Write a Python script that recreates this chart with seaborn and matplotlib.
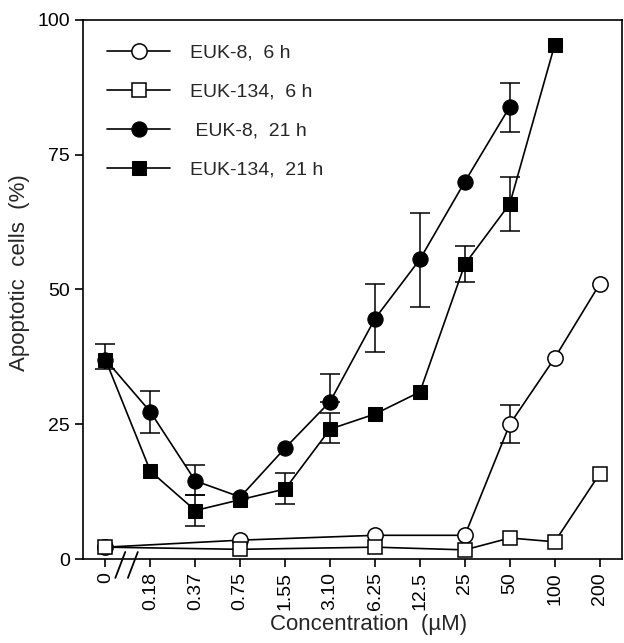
import numpy as np
import matplotlib
matplotlib.use('Agg')
import matplotlib.pyplot as plt
import matplotlib.transforms as mtransforms
import seaborn as sns

conc_labels = ['0', '0.18', '0.37', '0.75', '1.55', '3.10', '6.25', '12.5', '25', '50', '100', '200']

# index positions of the concentrations
euk8_6h_x = [0, 3, 6, 8, 9, 10, 11]
euk8_6h_y = [2.2, 3.5, 4.4, 4.4, 25.0, 37.3, 51.0]

euk134_6h_x = [0, 3, 6, 8, 9, 10, 11]
euk134_6h_y = [2.2, 1.8, 2.2, 1.7, 3.9, 3.2, 15.8]

euk8_21h_x = [0, 1, 2, 3, 4, 5, 6, 7, 8, 9]
euk8_21h_y = [37.0, 27.3, 14.5, 11.5, 20.6, 29.2, 44.6, 55.6, 70.0, 83.9]

euk134_21h_x = [0, 1, 2, 3, 4, 5, 6, 7, 8, 9, 10]
euk134_21h_y = [37.0, 16.3, 9.0, 11.0, 13.0, 24.1, 26.9, 31.0, 54.7, 65.9, 95.4]

# error bars: (x index, y, lower err, upper err)
err_euk8_6h = [(9, 25.0, 3.5, 3.5)]
err_euk8_21h = [(1, 27.3, 3.9, 3.9), (2, 14.5, 2.6, 2.9), (5, 29.2, 0, 5.1),
                (6, 44.6, 6.2, 6.4), (7, 55.6, 8.8, 8.6), (9, 83.9, 4.7, 4.4)]
err_euk134_21h = [(0, 37.0, 1.8, 2.9), (2, 9.0, 2.9, 2.9), (4, 13.0, 2.8, 3.0),
                  (5, 24.1, 2.6, 2.9), (8, 54.7, 3.4, 3.3), (9, 65.9, 5.0, 4.9)]

sns.set_style('ticks')
plt.rcParams['font.family'] = ['Liberation Sans', 'DejaVu Sans']
plt.rcParams['font.size'] = 14

fig = plt.figure(figsize=(6.24, 6.43), dpi=100)
ax = fig.add_axes([0.133, 0.1306, 0.864, 0.8384])

lw = 1.2
for errs in [err_euk8_6h, err_euk8_21h, err_euk134_21h]:
    ex = [e[0] for e in errs]
    ey = [e[1] for e in errs]
    elo = [e[2] for e in errs]
    ehi = [e[3] for e in errs]
    ax.errorbar(ex, ey, yerr=[elo, ehi], fmt='none', ecolor='black',
                elinewidth=1.1, capsize=7, capthick=1.1, zorder=2)

sns.lineplot(x=euk8_6h_x, y=euk8_6h_y, ax=ax, color='black', lw=lw, marker='o',
             markersize=11, markerfacecolor='white', markeredgecolor='black',
             markeredgewidth=1.1, label='EUK-8,  6 h', zorder=3)
sns.lineplot(x=euk134_6h_x, y=euk134_6h_y, ax=ax, color='black', lw=lw, marker='s',
             markersize=10, markerfacecolor='white', markeredgecolor='black',
             markeredgewidth=1.1, label='EUK-134,  6 h', zorder=3)
sns.lineplot(x=euk8_21h_x, y=euk8_21h_y, ax=ax, color='black', lw=lw, marker='o',
             markersize=11, markerfacecolor='black', markeredgecolor='black',
             label=' EUK-8,  21 h', zorder=4)
sns.lineplot(x=euk134_21h_x, y=euk134_21h_y, ax=ax, color='black', lw=lw, marker='s',
             markersize=10, markerfacecolor='black', markeredgecolor='black',
             label='EUK-134,  21 h', zorder=4)

ax.set_xlim(-0.5, 11.5)
ax.set_ylim(0, 100)
ax.set_xticks(range(len(conc_labels)))
ax.set_xticklabels(conc_labels, rotation=90)
ax.set_yticks([0, 25, 50, 75, 100])
ax.tick_params(direction='out', length=6, width=1.2, colors='black', labelsize=14)
for s in ax.spines.values():
    s.set_linewidth(1.2)
    s.set_color('black')

ax.set_xlabel('Concentration  (\u00b5M)', fontsize=16)
ax.set_ylabel('Apoptotic  cells  (%)', fontsize=16)
ax.xaxis.set_label_coords(0.53, -0.102)
ax.yaxis.set_label_coords(-0.098, 0.532)

# axis break marks
trans = mtransforms.blended_transform_factory(ax.transData, ax.transAxes)
for bx in [0.33, 0.61]:
    ax.plot([bx + 0.11, bx - 0.11], [0.013, -0.035], transform=trans, color='black',
            lw=1.3, clip_on=False)

leg = ax.legend(loc='upper left', frameon=False, handlelength=3.25, handletextpad=1.03,
                labelspacing=1.1, fontsize=14, borderaxespad=0.84)

fig.savefig('out.png', dpi=100)
